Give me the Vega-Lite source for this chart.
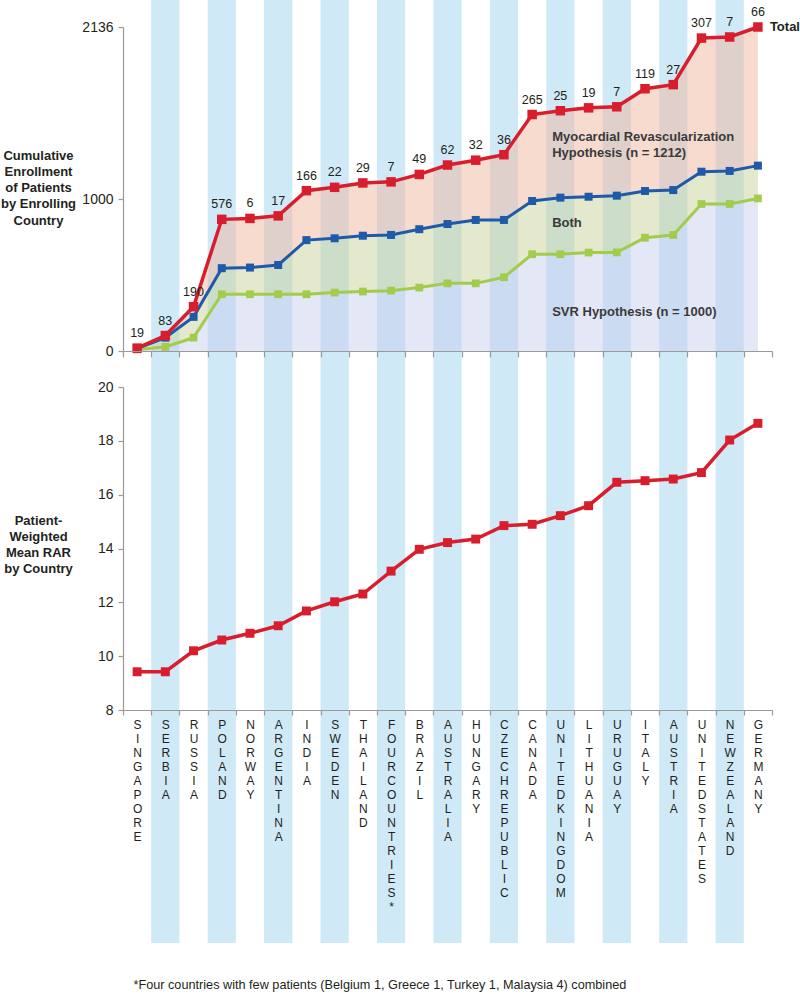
{
  "$schema": "https://vega.github.io/schema/vega-lite/v6.json",
  "background": "white",
  "padding": {"left": 0, "top": 0, "right": 0, "bottom": 0},
  "spacing": 0,
  "config": {
    "font": "Liberation Sans",
    "view": {"stroke": null},
    "axis": {"domainColor": "#9a9a9a", "tickColor": "#9a9a9a", "labelColor": "#231f20", "grid": false, "zindex": 1, "domainWidth": 1.2, "tickWidth": 1.2}
  },
  "title": {
    "text": "*Four countries with few patients (Belgium 1, Greece 1, Turkey 1, Malaysia 4) combined",
    "orient": "bottom", "anchor": "start", "frame": "bounds", "offset": 36, "dx": 133,
    "fontSize": 12.7, "fontWeight": "normal", "color": "#231f20"
  },
  "datasets": {
    "main": [
      {"country": "SINGAPORE", "n": 19, "total": 19, "both": 15, "svr": 10, "rar": 9.42},
      {"country": "SERBIA", "n": 83, "total": 102, "both": 88, "svr": 27, "rar": 9.42},
      {"country": "RUSSIA", "n": 190, "total": 292, "both": 225, "svr": 88, "rar": 10.2},
      {"country": "POLAND", "n": 576, "total": 868, "both": 546, "svr": 374, "rar": 10.6},
      {"country": "NORWAY", "n": 6, "total": 874, "both": 550, "svr": 374, "rar": 10.85},
      {"country": "ARGENTINA", "n": 17, "total": 891, "both": 567, "svr": 374, "rar": 11.13},
      {"country": "INDIA", "n": 166, "total": 1057, "both": 731, "svr": 374, "rar": 11.68},
      {"country": "SWEDEN", "n": 22, "total": 1079, "both": 743, "svr": 385, "rar": 12.02},
      {"country": "THAILAND", "n": 29, "total": 1108, "both": 760, "svr": 392, "rar": 12.31},
      {"country": "FOUR COUNTRIES*", "n": 7, "total": 1115, "both": 765, "svr": 398, "rar": 13.16},
      {"country": "BRAZIL", "n": 49, "total": 1164, "both": 803, "svr": 418, "rar": 13.97},
      {"country": "AUSTRALIA", "n": 62, "total": 1226, "both": 837, "svr": 446, "rar": 14.22},
      {"country": "HUNGARY", "n": 32, "total": 1258, "both": 864, "svr": 446, "rar": 14.35},
      {"country": "CZECH REPUBLIC", "n": 36, "total": 1294, "both": 864, "svr": 486, "rar": 14.85},
      {"country": "CANADA", "n": 265, "total": 1559, "both": 989, "svr": 638, "rar": 14.9},
      {"country": "UNITED KINGDOM", "n": 25, "total": 1584, "both": 1011, "svr": 638, "rar": 15.22},
      {"country": "LITHUANIA", "n": 19, "total": 1603, "both": 1017, "svr": 649, "rar": 15.59},
      {"country": "URUGUAY", "n": 7, "total": 1610, "both": 1024, "svr": 650, "rar": 16.46},
      {"country": "ITALY", "n": 119, "total": 1729, "both": 1055, "svr": 747, "rar": 16.52},
      {"country": "AUSTRIA", "n": 27, "total": 1756, "both": 1061, "svr": 765, "rar": 16.58},
      {"country": "UNITED STATES", "n": 307, "total": 2063, "both": 1182, "svr": 969, "rar": 16.82},
      {"country": "NEW ZEALAND", "n": 7, "total": 2070, "both": 1187, "svr": 969, "rar": 18.03},
      {"country": "GERMANY", "n": 66, "total": 2136, "both": 1222, "svr": 1006, "rar": 18.65}
    ],
    "bands": [
      {"country": "SERBIA"}, {"country": "POLAND"}, {"country": "ARGENTINA"}, {"country": "SWEDEN"},
      {"country": "FOUR COUNTRIES*"}, {"country": "AUSTRALIA"}, {"country": "CZECH REPUBLIC"},
      {"country": "UNITED KINGDOM"}, {"country": "URUGUAY"}, {"country": "AUSTRIA"}, {"country": "NEW ZEALAND"}
    ],
    "notes": [
      {"country": "CANADA", "value": 1411, "label": "Myocardial Revascularization\nHypothesis (n = 1212)"},
      {"country": "CANADA", "value": 844, "label": "Both"},
      {"country": "CANADA", "value": 257, "label": "SVR Hypothesis (n = 1000)"}
    ],
    "endlabel": [
      {"country": "GERMANY", "value": 2136, "label": "Total"}
    ]
  },
  "vconcat": [
    {
      "width": 649,
      "height": 324,
      "layer": [
        {
          "data": {"name": "bands"},
          "mark": {"type": "rect", "color": "#cfe9f7", "clip": false},
          "encoding": {
            "x": {
              "field": "country", "type": "nominal",
              "scale": {"type": "band", "paddingInner": 0, "paddingOuter": 0,
                "domain": ["SINGAPORE","SERBIA","RUSSIA","POLAND","NORWAY","ARGENTINA","INDIA","SWEDEN","THAILAND","FOUR COUNTRIES*","BRAZIL","AUSTRALIA","HUNGARY","CZECH REPUBLIC","CANADA","UNITED KINGDOM","LITHUANIA","URUGUAY","ITALY","AUSTRIA","UNITED STATES","NEW ZEALAND","GERMANY"]},
              "axis": {"title": null, "labels": false, "ticks": true, "tickBand": "extent", "tickSize": 6, "zindex": 2}
            },
            "y": {
              "datum": 2314, "type": "quantitative",
              "scale": {"domain": [0, 2136], "nice": false, "zero": false},
              "axis": {
                "values": [0, 1000, 2136], "format": "d",
                "title": ["Cumulative", "Enrollment", "of Patients", "by Enrolling", "Country"],
                "titleAngle": 0, "titleAlign": "center", "titleBaseline": "middle",
                "titleX": -85, "titleY": 128, "titleFontSize": 13, "titleFontWeight": "bold",
                "titleLineHeight": 16.3, "titleColor": "#231f20",
                "labelFontSize": 14, "labelPadding": 5, "tickSize": 5, "zindex": 2
              }
            },
            "y2": {"datum": -46}
          }
        },
        {
          "data": {"name": "main"},
          "mark": {"type": "area", "color": "#c7cfed", "opacity": 0.5},
          "encoding": {
            "x": {"field": "country", "type": "nominal"},
            "y": {"field": "svr", "type": "quantitative"},
            "y2": {"datum": 0}
          }
        },
        {
          "data": {"name": "main"},
          "mark": {"type": "area", "color": "#c9d19b", "opacity": 0.5},
          "encoding": {
            "x": {"field": "country", "type": "nominal"},
            "y": {"field": "both", "type": "quantitative"},
            "y2": {"field": "svr"}
          }
        },
        {
          "data": {"name": "main"},
          "mark": {"type": "area", "color": "#efb7a0", "opacity": 0.5},
          "encoding": {
            "x": {"field": "country", "type": "nominal"},
            "y": {"field": "total", "type": "quantitative"},
            "y2": {"field": "both"}
          }
        },
        {
          "data": {"name": "main"},
          "mark": {"type": "line", "color": "#a3cb4c", "strokeWidth": 3, "point": {"shape": "square", "size": 60, "filled": true, "opacity": 1, "color": "#a3cb4c"}},
          "encoding": {
            "x": {"field": "country", "type": "nominal"},
            "y": {"field": "svr", "type": "quantitative"}
          }
        },
        {
          "data": {"name": "main"},
          "mark": {"type": "line", "color": "#1e5aa7", "strokeWidth": 3, "point": {"shape": "square", "size": 64, "filled": true, "opacity": 1, "color": "#1e5aa7"}},
          "encoding": {
            "x": {"field": "country", "type": "nominal"},
            "y": {"field": "both", "type": "quantitative"}
          }
        },
        {
          "data": {"name": "main"},
          "mark": {"type": "line", "color": "#d81e2c", "strokeWidth": 3.5, "point": {"shape": "square", "size": 90, "filled": true, "opacity": 1, "color": "#d81e2c"}},
          "encoding": {
            "x": {"field": "country", "type": "nominal"},
            "y": {"field": "total", "type": "quantitative"}
          }
        },
        {
          "data": {"name": "main"},
          "mark": {"type": "text", "fontSize": 12.5, "color": "#231f20", "dy": -15, "baseline": "middle", "align": "center"},
          "encoding": {
            "x": {"field": "country", "type": "nominal"},
            "y": {"field": "total", "type": "quantitative"},
            "text": {"field": "n", "type": "quantitative"}
          }
        },
        {
          "data": {"name": "notes"},
          "mark": {"type": "text", "fontSize": 13, "fontWeight": "bold", "color": "#3a3a3a", "align": "left", "baseline": "middle", "dx": 20, "lineBreak": "\n", "lineHeight": 16},
          "encoding": {
            "x": {"field": "country", "type": "nominal"},
            "y": {"field": "value", "type": "quantitative"},
            "text": {"field": "label", "type": "nominal"}
          }
        },
        {
          "data": {"name": "endlabel"},
          "mark": {"type": "text", "fontSize": 13, "fontWeight": "bold", "color": "#231f20", "align": "left", "baseline": "middle", "dx": 12},
          "encoding": {
            "x": {"field": "country", "type": "nominal"},
            "y": {"field": "value", "type": "quantitative"},
            "text": {"field": "label", "type": "nominal"}
          }
        }
      ]
    },
    {
      "width": 649,
      "height": 323,
      "layer": [
        {
          "data": {"name": "bands"},
          "mark": {"type": "rect", "color": "#cfe9f7", "clip": false},
          "encoding": {
            "x": {
              "field": "country", "type": "nominal",
              "scale": {"type": "band", "paddingInner": 0, "paddingOuter": 0,
                "domain": ["SINGAPORE","SERBIA","RUSSIA","POLAND","NORWAY","ARGENTINA","INDIA","SWEDEN","THAILAND","FOUR COUNTRIES*","BRAZIL","AUSTRALIA","HUNGARY","CZECH REPUBLIC","CANADA","UNITED KINGDOM","LITHUANIA","URUGUAY","ITALY","AUSTRIA","UNITED STATES","NEW ZEALAND","GERMANY"]},
              "axis": {
                "title": null, "tickBand": "extent", "tickSize": 5, "zindex": 2,
                "labelExpr": "split(replace(datum.label, ' ', ''), '')",
                "labelAngle": 0, "labelAlign": "center", "labelBaseline": "top",
                "labelFontSize": 12, "labelLineHeight": 14, "labelPadding": 4,
                "labelOverlap": false, "labelLimit": 0
              }
            },
            "y": {
              "datum": 21.077, "type": "quantitative",
              "scale": {"domain": [8, 20], "nice": false, "zero": false},
              "axis": {
                "values": [8, 10, 12, 14, 16, 18, 20],
                "title": ["Patient-", "Weighted", "Mean RAR", "by Country"],
                "titleAngle": 0, "titleAlign": "center", "titleBaseline": "middle",
                "titleX": -85, "titleY": 133, "titleFontSize": 13, "titleFontWeight": "bold",
                "titleLineHeight": 16.3, "titleColor": "#231f20",
                "labelFontSize": 14, "labelPadding": 5, "tickSize": 5, "zindex": 2
              }
            },
            "y2": {"datum": -0.656}
          }
        },
        {
          "data": {"name": "main"},
          "mark": {"type": "line", "color": "#d81e2c", "strokeWidth": 3.5, "point": {"shape": "square", "size": 80, "filled": true, "opacity": 1, "color": "#d81e2c"}},
          "encoding": {
            "x": {"field": "country", "type": "nominal"},
            "y": {"field": "rar", "type": "quantitative"}
          }
        }
      ]
    }
  ]
}
